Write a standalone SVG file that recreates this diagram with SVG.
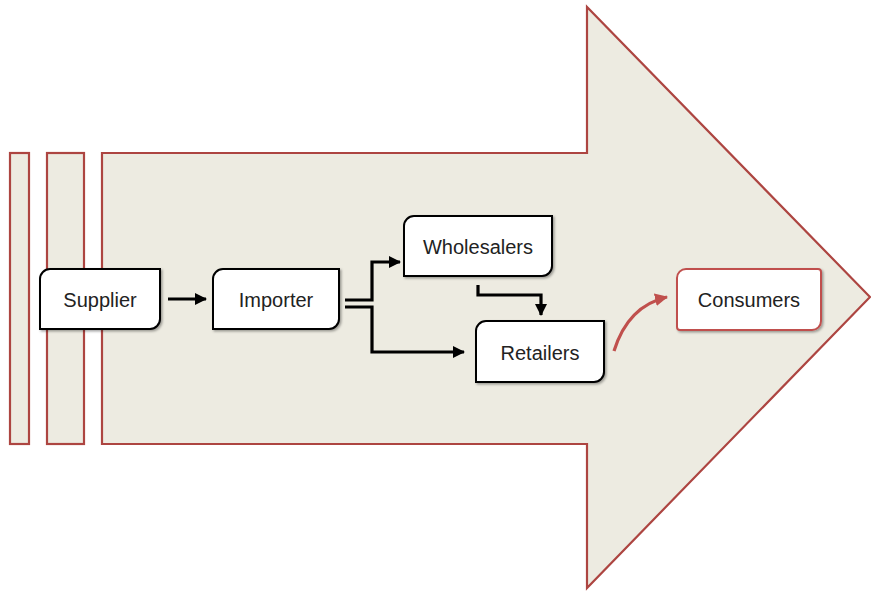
<svg xmlns="http://www.w3.org/2000/svg" width="871" height="592" viewBox="0 0 871 592">
<style>
.bg{fill:#edebe1;stroke:#ad4541;stroke-width:2.2;stroke-linejoin:miter}
.box{fill:#ffffff;stroke:#000000;stroke-width:2;filter:url(#sh)}
.cbox{fill:#ffffff;stroke:#c0504d;stroke-width:2;filter:url(#sh)}
.lbl{font-family:"Liberation Sans",Arial,sans-serif;font-size:20px;fill:#222222;text-anchor:middle}
.con{fill:none;stroke:#000000;stroke-width:3.2;stroke-linejoin:miter}
.red{fill:none;stroke:#c0504d;stroke-width:3.2}
</style>
<defs>
<filter id="sh" x="-10%" y="-10%" width="130%" height="140%">
<feDropShadow dx="1.5" dy="1.5" stdDeviation="1.2" flood-color="#000" flood-opacity="0.35"/>
</filter>
<marker id="ah" markerUnits="userSpaceOnUse" markerWidth="14" markerHeight="14" refX="11" refY="6" orient="auto">
<path d="M0,0 L12,6 L0,12 Z" fill="#000"/>
</marker>
<marker id="ahr" markerUnits="userSpaceOnUse" markerWidth="16" markerHeight="16" refX="12" refY="6.5" orient="auto">
<path d="M0,0 L13,6.5 L0,13 Z" fill="#c0504d"/>
</marker>
</defs>
<g id="background">
<rect class="bg" x="10" y="153" width="19" height="291"/>
<rect class="bg" x="47" y="153" width="37" height="291"/>
<path class="bg" d="M102,153 H587 V7 L870,297 L587,588 V444 H102 Z"/>
</g>
<g id="connectors">
<path class="con" d="M168,299 H206" marker-end="url(#ah)"/>
<path class="con" d="M345,300 H372 V262 H400" marker-end="url(#ah)"/>
<path class="con" d="M345,307 H372 V352 H464" marker-end="url(#ah)"/>
<path class="con" d="M478,285 V295 H541 V315" marker-end="url(#ah)"/>
<path class="red" d="M614,351 Q628,306 667,297" marker-end="url(#ahr)"/>
</g>
<g id="supplier">
<path class="box" d="M50,269 H160 V319 A10,10 0 0 1 150,329 H40 V279 A10,10 0 0 1 50,269 Z"/>
<text class="lbl" x="100" y="307">Supplier</text>
</g>
<g id="importer">
<path class="box" d="M223,269 H339 V319 A10,10 0 0 1 329,329 H213 V279 A10,10 0 0 1 223,269 Z"/>
<text class="lbl" x="276" y="307">Importer</text>
</g>
<g id="wholesalers">
<path class="box" d="M414,216 H552 V266 A10,10 0 0 1 542,276 H404 V226 A10,10 0 0 1 414,216 Z"/>
<text class="lbl" x="478" y="254">Wholesalers</text>
</g>
<g id="retailers">
<path class="box" d="M486,321 H604 V372 A10,10 0 0 1 594,382 H476 V331 A10,10 0 0 1 486,321 Z"/>
<text class="lbl" x="540" y="360">Retailers</text>
</g>
<g id="consumers">
<path class="cbox" d="M686,269 H818 A3,3 0 0 1 821,272 V321 A9,9 0 0 1 812,330 H680 A3,3 0 0 1 677,327 V278 A9,9 0 0 1 686,269 Z"/>
<text class="lbl" x="749" y="307">Consumers</text>
</g>
</svg>
